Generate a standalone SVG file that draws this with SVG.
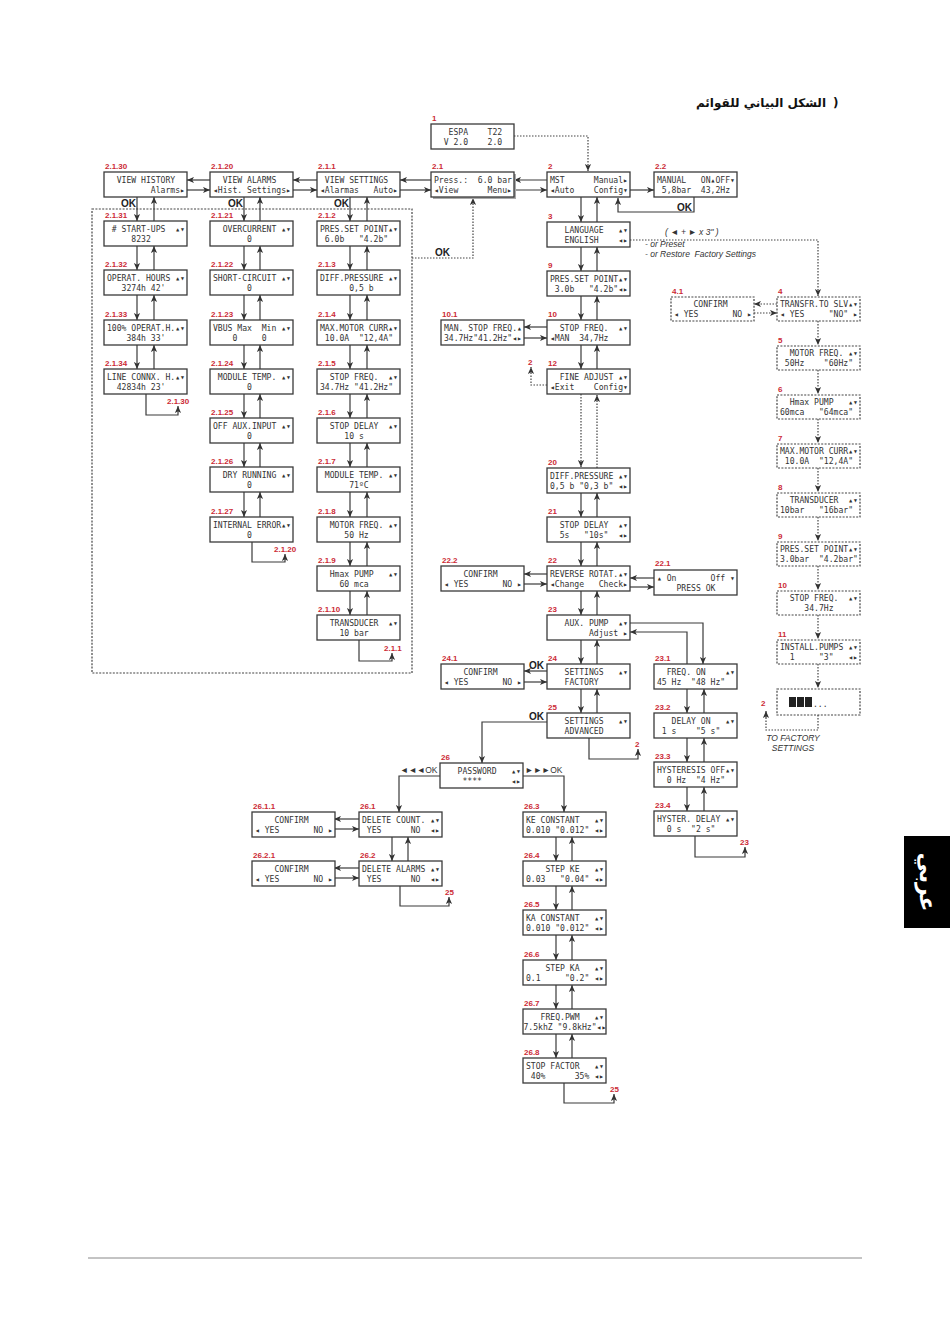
<svg xmlns="http://www.w3.org/2000/svg" width="950" height="1344" viewBox="0 0 950 1344">
<defs>
<style>
.b{fill:#fff;stroke:#3a3a3a;stroke-width:1.3}
.bd{fill:#fff;stroke:#444;stroke-width:1.2;stroke-dasharray:2 1.4}
.t{font-family:"DejaVu Sans Mono","Liberation Mono",monospace;font-size:8.1px;fill:#333;white-space:pre}
.lb{font-family:"Liberation Sans",Arial,sans-serif;font-size:8px;font-weight:bold;fill:#cc2a36}
.ok{font-family:"Liberation Sans",Arial,sans-serif;font-size:10px;font-weight:bold;fill:#222}
.sm{font-family:"Liberation Sans",Arial,sans-serif;font-size:8.5px;fill:#333}
.it{font-family:"Liberation Sans",Arial,sans-serif;font-size:8.5px;font-style:italic;fill:#333;white-space:pre}
.c{fill:none;stroke:#3a3a3a;stroke-width:1.2;marker-end:url(#a)}
.cn{fill:none;stroke:#3a3a3a;stroke-width:1.2}
.d{fill:none;stroke:#444;stroke-width:1.2;stroke-dasharray:1.5 1.5;marker-end:url(#a)}
.dn{fill:none;stroke:#444;stroke-width:1.2;stroke-dasharray:1.5 1.5}
</style>
<marker id="a" viewBox="0 0 8 8" refX="8" refY="4" markerWidth="7" markerHeight="7" markerUnits="userSpaceOnUse" orient="auto"><path d="M0,0.5 L8,4 L0,7.5 L2,4 z" fill="#333"/></marker>
</defs>
<rect width="950" height="1344" fill="#fff"/>
<g id="title">
<text x="826" y="107" text-anchor="end" style="font-family:'DejaVu Sans',sans-serif;font-size:12px;font-weight:bold;fill:#111">الشكل البياني للقوائم</text>
<text x="833" y="107" style="font-family:'DejaVu Sans',sans-serif;font-size:12px;font-weight:bold;fill:#111">)</text>
</g>
<g id="frame">
<rect x="92" y="209" width="320" height="464" class="bd" style="fill:none"/>
</g>
<g id="connectors">
<path class="d" d="M514,136H588V171"/>
<path class="d" d="M412,258H473V198"/>
<path class="c" d="M431,180H400"/>
<path class="c" d="M400,190H431"/>
<path class="c" d="M317,180H293"/>
<path class="c" d="M293,190H317"/>
<path class="c" d="M210,180H187"/>
<path class="c" d="M187,190H210"/>
<path class="c" d="M547,180H514"/>
<path class="c" d="M514,190H547"/>
<path class="c" d="M630,190H654"/>
<path class="c" d="M694,197V212H618V198"/>
<path class="d" d="M630,240H818V296"/>
<path class="d" d="M777,304H754"/>
<path class="d" d="M754,313H777"/>
<path class="d" d="M818,321V345"/>
<path class="d" d="M818,370V394"/>
<path class="d" d="M818,419V443"/>
<path class="d" d="M818,468V492"/>
<path class="d" d="M818,517V541"/>
<path class="d" d="M818,566V590"/>
<path class="d" d="M818,615V639"/>
<path class="d" d="M818,664V688"/>
<path class="dn" d="M818,715V730H766V718"/>
<path class="c" d="M766,718V711"/>
<path class="c" d="M137,197V221"/><path class="c" d="M154,221V197"/>
<path class="c" d="M137,246V270"/><path class="c" d="M154,270V246"/>
<path class="c" d="M137,295V320"/><path class="c" d="M154,320V295"/>
<path class="c" d="M137,345V369"/><path class="c" d="M154,369V345"/>
<path class="c" d="M146,394V415H178V406"/>
<path class="c" d="M244,197V221"/><path class="c" d="M260,221V197"/>
<path class="c" d="M244,246V270"/><path class="c" d="M260,270V246"/>
<path class="c" d="M244,295V320"/><path class="c" d="M260,320V295"/>
<path class="c" d="M244,345V369"/><path class="c" d="M260,369V345"/>
<path class="c" d="M244,394V418"/><path class="c" d="M260,418V394"/>
<path class="c" d="M244,443V467"/><path class="c" d="M260,467V443"/>
<path class="c" d="M244,492V517"/><path class="c" d="M260,517V492"/>
<path class="c" d="M252,542V562H285V554"/>
<path class="c" d="M350,197V221"/><path class="c" d="M367,221V197"/>
<path class="c" d="M350,246V270"/><path class="c" d="M367,270V246"/>
<path class="c" d="M350,295V320"/><path class="c" d="M367,320V295"/>
<path class="c" d="M350,345V369"/><path class="c" d="M367,369V345"/>
<path class="c" d="M350,394V418"/><path class="c" d="M367,418V394"/>
<path class="c" d="M350,443V467"/><path class="c" d="M367,467V443"/>
<path class="c" d="M350,492V517"/><path class="c" d="M367,517V492"/>
<path class="c" d="M350,542V566"/><path class="c" d="M367,566V542"/>
<path class="c" d="M350,591V615"/><path class="c" d="M367,615V591"/>
<path class="c" d="M359,640V661H392V653"/>
<path class="c" d="M581,197V222"/><path class="c" d="M597,222V197"/>
<path class="c" d="M581,247V271"/><path class="c" d="M597,271V247"/>
<path class="c" d="M581,296V320"/><path class="c" d="M597,320V296"/>
<path class="c" d="M581,345V369"/><path class="c" d="M597,369V345"/>
<path class="d" d="M581,394V467"/><path class="d" d="M597,468V395"/>
<path class="c" d="M581,493V517"/><path class="c" d="M597,517V493"/>
<path class="c" d="M581,542V566"/><path class="c" d="M597,566V542"/>
<path class="c" d="M581,591V615"/><path class="c" d="M597,615V591"/>
<path class="c" d="M581,640V664"/><path class="c" d="M597,664V640"/>
<path class="c" d="M581,689V713"/><path class="c" d="M597,713V689"/>
<path class="c" d="M547,327H524"/><path class="c" d="M524,338H547"/>
<path class="d" d="M547,385H531V367"/>
<path class="c" d="M547,574H524"/><path class="c" d="M524,584H547"/>
<path class="c" d="M654,578H630"/><path class="c" d="M630,587H654"/>
<path class="c" d="M630,623H703V664"/>
<path class="c" d="M687,664V632H630"/>
<path class="c" d="M687,689V713"/><path class="c" d="M704,713V689"/>
<path class="c" d="M687,738V762"/><path class="c" d="M704,762V738"/>
<path class="c" d="M687,787V811"/><path class="c" d="M704,811V787"/>
<path class="c" d="M695,836V857H745V847"/>
<path class="c" d="M547,671H524"/><path class="c" d="M524,682H547"/>
<path class="c" d="M547,722H482V763"/>
<path class="c" d="M589,738V759H638V749"/>
<path class="c" d="M440,776H399V812"/>
<path class="c" d="M523,776H564V812"/>
<path class="c" d="M359,819H334"/><path class="c" d="M334,829H359"/>
<path class="c" d="M359,868H334"/><path class="c" d="M334,878H359"/>
<path class="c" d="M392,837V861"/><path class="c" d="M408,861V837"/>
<path class="c" d="M400,886V906H449V897"/>
<path class="c" d="M556,837V861"/><path class="c" d="M572,861V837"/>
<path class="c" d="M556,886V910"/><path class="c" d="M572,910V886"/>
<path class="c" d="M556,935V960"/><path class="c" d="M572,960V935"/>
<path class="c" d="M556,985V1009"/><path class="c" d="M572,1009V985"/>
<path class="c" d="M556,1034V1058"/><path class="c" d="M572,1058V1034"/>
<path class="c" d="M564,1083V1103H614V1094"/>
</g>
<g id="annotations">
<text class="ok" x="136" y="207" text-anchor="end">OK</text>
<text class="ok" x="243" y="207" text-anchor="end">OK</text>
<text class="ok" x="349" y="207" text-anchor="end">OK</text>
<text class="ok" x="692" y="211" text-anchor="end">OK</text>
<text class="ok" x="435" y="256">OK</text>
<text class="ok" x="529" y="669">OK</text>
<text class="ok" x="529" y="720">OK</text>
<text class="it" x="665" y="235" xml:space="preserve">( ◄ + ► x 3" )</text>
<text class="it" x="645" y="247">- or Preset</text>
<text class="it" x="645" y="257" xml:space="preserve">- or Restore  Factory Settings</text>
<text class="it" x="793" y="741" text-anchor="middle">TO FACTORY</text>
<text class="it" x="793" y="751" text-anchor="middle">SETTINGS</text>
<text class="sm" x="400" y="773">◄◄◄OK</text>
<text class="sm" x="525" y="773">►►►OK</text>
<text class="lb" x="167" y="404">2.1.30</text>
<text class="lb" x="274" y="552">2.1.20</text>
<text class="lb" x="384" y="651">2.1.1</text>
<text class="lb" x="528" y="365">2</text>
<text class="lb" x="761" y="706">2</text>
<text class="lb" x="635" y="747">2</text>
<text class="lb" x="740" y="845">23</text>
<text class="lb" x="445" y="895">25</text>
<text class="lb" x="610" y="1092">25</text>
</g>
<g id="n1"><rect class="b" x="431" y="124" width="83" height="25"/><text class="lb" x="432" y="121">1</text><text class="t" x="434" y="135" xml:space="preserve">   ESPA    T22</text><text class="t" x="434" y="145" xml:space="preserve">  V 2.0    2.0</text></g>
<g id="n2_1"><rect x="433" y="174" width="83" height="25" fill="#aaa"/><rect class="b" x="431" y="172" width="83" height="25"/><text class="lb" x="432" y="169">2.1</text><text class="t" x="434" y="183" xml:space="preserve">Press.:  6.0 bar</text><text class="t" x="434" y="193" xml:space="preserve">◂View      Menu▸</text></g>
<g id="n2"><rect class="b" x="547" y="172" width="83" height="25"/><text class="lb" x="548" y="169">2</text><text class="t" x="550" y="183" xml:space="preserve">MST      Manual▸</text><text class="t" x="550" y="193" xml:space="preserve">◂Auto    Config▾</text></g>
<g id="n2_2"><rect class="b" x="654" y="172" width="83" height="25"/><text class="lb" x="655" y="169">2.2</text><text class="t" x="657" y="183" xml:space="preserve">MANUAL   ON▴OFF▾</text><text class="t" x="657" y="193" xml:space="preserve"> 5,8bar  43,2Hz</text></g>
<g id="n3"><rect class="b" x="547" y="222" width="83" height="25"/><text class="lb" x="548" y="219">3</text><text class="t" x="550" y="233" xml:space="preserve">   LANGUAGE   ▴▾</text><text class="t" x="550" y="243" xml:space="preserve">   ENGLISH    ◂▸</text></g>
<g id="n9"><rect class="b" x="547" y="271" width="83" height="25"/><text class="lb" x="548" y="268">9</text><text class="t" x="550" y="282" xml:space="preserve">PRES.SET POINT▴▾</text><text class="t" x="550" y="292" xml:space="preserve"> 3.0b   "4.2b"◂▸</text></g>
<g id="n10"><rect class="b" x="547" y="320" width="83" height="25"/><text class="lb" x="548" y="317">10</text><text class="t" x="550" y="331" xml:space="preserve">  STOP FREQ.  ▴▾</text><text class="t" x="550" y="341" xml:space="preserve">◂MAN  34,7Hz</text></g>
<g id="n10_1"><rect class="b" x="441" y="320" width="83" height="25"/><text class="lb" x="442" y="317">10.1</text><text class="t" x="444" y="331" xml:space="preserve">MAN. STOP FREQ.▴</text><text class="t" x="444" y="341" xml:space="preserve">34.7Hz"41.2Hz"◂▸</text></g>
<g id="n12"><rect class="b" x="547" y="369" width="83" height="25"/><text class="lb" x="548" y="366">12</text><text class="t" x="550" y="380" xml:space="preserve">  FINE ADJUST ▴▾</text><text class="t" x="550" y="390" xml:space="preserve">◂Exit    Config▾</text></g>
<g id="n20"><rect class="b" x="547" y="468" width="83" height="25"/><text class="lb" x="548" y="465">20</text><text class="t" x="550" y="479" xml:space="preserve">DIFF.PRESSURE ▴▾</text><text class="t" x="550" y="489" xml:space="preserve">0,5 b "0,3 b" ◂▸</text></g>
<g id="n21"><rect class="b" x="547" y="517" width="83" height="25"/><text class="lb" x="548" y="514">21</text><text class="t" x="550" y="528" xml:space="preserve">  STOP DELAY  ▴▾</text><text class="t" x="550" y="538" xml:space="preserve">  5s   "10s"  ◂▸</text></g>
<g id="n22"><rect class="b" x="547" y="566" width="83" height="25"/><text class="lb" x="548" y="563">22</text><text class="t" x="550" y="577" xml:space="preserve">REVERSE ROTAT.▴▾</text><text class="t" x="550" y="587" xml:space="preserve">◂Change   Check▸</text></g>
<g id="n22_2"><rect class="b" x="441" y="566" width="83" height="25"/><text class="lb" x="442" y="563">22.2</text><text class="t" x="444" y="577" xml:space="preserve">    CONFIRM</text><text class="t" x="444" y="587" xml:space="preserve">◂ YES       NO ▸</text></g>
<g id="n22_1"><rect class="b" x="654" y="570" width="83" height="25"/><text class="lb" x="655" y="566">22.1</text><text class="t" x="657" y="581" xml:space="preserve">▴ On       Off ▾</text><text class="t" x="657" y="591" xml:space="preserve">    PRESS OK</text></g>
<g id="n23"><rect class="b" x="547" y="615" width="83" height="25"/><text class="lb" x="548" y="612">23</text><text class="t" x="550" y="626" xml:space="preserve">   AUX. PUMP  ▴▾</text><text class="t" x="550" y="636" xml:space="preserve">        Adjust ▸</text></g>
<g id="n24"><rect class="b" x="547" y="664" width="83" height="25"/><text class="lb" x="548" y="661">24</text><text class="t" x="550" y="675" xml:space="preserve">   SETTINGS   ▴▾</text><text class="t" x="550" y="685" xml:space="preserve">   FACTORY</text></g>
<g id="n24_1"><rect class="b" x="441" y="664" width="83" height="25"/><text class="lb" x="442" y="661">24.1</text><text class="t" x="444" y="675" xml:space="preserve">    CONFIRM</text><text class="t" x="444" y="685" xml:space="preserve">◂ YES       NO ▸</text></g>
<g id="n23_1"><rect class="b" x="654" y="664" width="83" height="25"/><text class="lb" x="655" y="661">23.1</text><text class="t" x="657" y="675" xml:space="preserve">  FREQ. ON    ▴▾</text><text class="t" x="657" y="685" xml:space="preserve">45 Hz  "48 Hz"</text></g>
<g id="n25"><rect class="b" x="547" y="713" width="83" height="25"/><text class="lb" x="548" y="710">25</text><text class="t" x="550" y="724" xml:space="preserve">   SETTINGS   ▴▾</text><text class="t" x="550" y="734" xml:space="preserve">   ADVANCED</text></g>
<g id="n23_2"><rect class="b" x="654" y="713" width="83" height="25"/><text class="lb" x="655" y="710">23.2</text><text class="t" x="657" y="724" xml:space="preserve">   DELAY ON   ▴▾</text><text class="t" x="657" y="734" xml:space="preserve"> 1 s    "5 s"</text></g>
<g id="n23_3"><rect class="b" x="654" y="762" width="83" height="25"/><text class="lb" x="655" y="759">23.3</text><text class="t" x="657" y="773" xml:space="preserve">HYSTERESIS OFF▴▾</text><text class="t" x="657" y="783" xml:space="preserve">  0 Hz  "4 Hz"</text></g>
<g id="n23_4"><rect class="b" x="654" y="811" width="83" height="25"/><text class="lb" x="655" y="808">23.4</text><text class="t" x="657" y="822" xml:space="preserve">HYSTER. DELAY ▴▾</text><text class="t" x="657" y="832" xml:space="preserve">  0 s  "2 s"</text></g>
<g id="n26"><rect class="b" x="440" y="763" width="83" height="25"/><text class="lb" x="441" y="760">26</text><text class="t" x="443" y="774" xml:space="preserve">   PASSWORD   ▴▾</text><text class="t" x="443" y="784" xml:space="preserve">    ****      ◂▸</text></g>
<g id="n26_1"><rect class="b" x="359" y="812" width="83" height="25"/><text class="lb" x="360" y="809">26.1</text><text class="t" x="362" y="823" xml:space="preserve">DELETE COUNT. ▴▾</text><text class="t" x="362" y="833" xml:space="preserve"> YES      NO  ◂▸</text></g>
<g id="n26_1_1"><rect class="b" x="252" y="812" width="83" height="25"/><text class="lb" x="253" y="809">26.1.1</text><text class="t" x="255" y="823" xml:space="preserve">    CONFIRM</text><text class="t" x="255" y="833" xml:space="preserve">◂ YES       NO ▸</text></g>
<g id="n26_2"><rect class="b" x="359" y="861" width="83" height="25"/><text class="lb" x="360" y="858">26.2</text><text class="t" x="362" y="872" xml:space="preserve">DELETE ALARMS ▴▾</text><text class="t" x="362" y="882" xml:space="preserve"> YES      NO  ◂▸</text></g>
<g id="n26_2_1"><rect class="b" x="252" y="861" width="83" height="25"/><text class="lb" x="253" y="858">26.2.1</text><text class="t" x="255" y="872" xml:space="preserve">    CONFIRM</text><text class="t" x="255" y="882" xml:space="preserve">◂ YES       NO ▸</text></g>
<g id="n26_3"><rect class="b" x="523" y="812" width="83" height="25"/><text class="lb" x="524" y="809">26.3</text><text class="t" x="526" y="823" xml:space="preserve">KE CONSTANT   ▴▾</text><text class="t" x="526" y="833" xml:space="preserve">0.010 "0.012" ◂▸</text></g>
<g id="n26_4"><rect class="b" x="523" y="861" width="83" height="25"/><text class="lb" x="524" y="858">26.4</text><text class="t" x="526" y="872" xml:space="preserve">    STEP KE   ▴▾</text><text class="t" x="526" y="882" xml:space="preserve">0.03   "0.04" ◂▸</text></g>
<g id="n26_5"><rect class="b" x="523" y="910" width="83" height="25"/><text class="lb" x="524" y="907">26.5</text><text class="t" x="526" y="921" xml:space="preserve">KA CONSTANT   ▴▾</text><text class="t" x="526" y="931" xml:space="preserve">0.010 "0.012" ◂▸</text></g>
<g id="n26_6"><rect class="b" x="523" y="960" width="83" height="25"/><text class="lb" x="524" y="957">26.6</text><text class="t" x="526" y="971" xml:space="preserve">    STEP KA   ▴▾</text><text class="t" x="526" y="981" xml:space="preserve">0.1     "0.2" ◂▸</text></g>
<g id="n26_7"><rect class="b" x="523" y="1009" width="83" height="25"/><text class="lb" x="524" y="1006">26.7</text><text class="t" x="526" y="1020" xml:space="preserve">   FREQ.PWM   ▴▾</text><text class="t" x="523.5" y="1030" xml:space="preserve">7.5khZ "9.8kHz"◂▸</text></g>
<g id="n26_8"><rect class="b" x="523" y="1058" width="83" height="25"/><text class="lb" x="524" y="1055">26.8</text><text class="t" x="526" y="1069" xml:space="preserve">STOP FACTOR   ▴▾</text><text class="t" x="526" y="1079" xml:space="preserve"> 40%      35% ◂▸</text></g>
<g id="n2_1_30"><rect class="b" x="104" y="172" width="83" height="25"/><text class="lb" x="105" y="169">2.1.30</text><text class="t" x="107" y="183" xml:space="preserve">  VIEW HISTORY</text><text class="t" x="107" y="193" xml:space="preserve">         Alarms▸</text></g>
<g id="n2_1_20"><rect class="b" x="210" y="172" width="83" height="25"/><text class="lb" x="211" y="169">2.1.20</text><text class="t" x="213" y="183" xml:space="preserve">  VIEW ALARMS</text><text class="t" x="213" y="193" xml:space="preserve">◂Hist. Settings▸</text></g>
<g id="n2_1_1"><rect class="b" x="317" y="172" width="83" height="25"/><text class="lb" x="318" y="169">2.1.1</text><text class="t" x="320" y="183" xml:space="preserve"> VIEW SETTINGS</text><text class="t" x="320" y="193" xml:space="preserve">◂Alarmas   Auto▸</text></g>
<g id="n2_1_31"><rect class="b" x="104" y="221" width="83" height="25"/><text class="lb" x="105" y="218">2.1.31</text><text class="t" x="107" y="232" xml:space="preserve"> # START-UPS  ▴▾</text><text class="t" x="107" y="242" xml:space="preserve">     8232</text></g>
<g id="n2_1_32"><rect class="b" x="104" y="270" width="83" height="25"/><text class="lb" x="105" y="267">2.1.32</text><text class="t" x="107" y="281" xml:space="preserve">OPERAT. HOURS ▴▾</text><text class="t" x="107" y="291" xml:space="preserve">   3274h 42'</text></g>
<g id="n2_1_33"><rect class="b" x="104" y="320" width="83" height="25"/><text class="lb" x="105" y="317">2.1.33</text><text class="t" x="107" y="331" xml:space="preserve">100% OPERAT.H.▴▾</text><text class="t" x="107" y="341" xml:space="preserve">    384h 33'</text></g>
<g id="n2_1_34"><rect class="b" x="104" y="369" width="83" height="25"/><text class="lb" x="105" y="366">2.1.34</text><text class="t" x="107" y="380" xml:space="preserve">LINE CONNX. H.▴▾</text><text class="t" x="107" y="390" xml:space="preserve">  42834h 23'</text></g>
<g id="n2_1_21"><rect class="b" x="210" y="221" width="83" height="25"/><text class="lb" x="211" y="218">2.1.21</text><text class="t" x="213" y="232" xml:space="preserve">  OVERCURRENT ▴▾</text><text class="t" x="213" y="242" xml:space="preserve">       0</text></g>
<g id="n2_1_22"><rect class="b" x="210" y="270" width="83" height="25"/><text class="lb" x="211" y="267">2.1.22</text><text class="t" x="213" y="281" xml:space="preserve">SHORT-CIRCUIT ▴▾</text><text class="t" x="213" y="291" xml:space="preserve">       0</text></g>
<g id="n2_1_23"><rect class="b" x="210" y="320" width="83" height="25"/><text class="lb" x="211" y="317">2.1.23</text><text class="t" x="213" y="331" xml:space="preserve">VBUS Max  Min ▴▾</text><text class="t" x="213" y="341" xml:space="preserve">    0     0</text></g>
<g id="n2_1_24"><rect class="b" x="210" y="369" width="83" height="25"/><text class="lb" x="211" y="366">2.1.24</text><text class="t" x="213" y="380" xml:space="preserve"> MODULE TEMP. ▴▾</text><text class="t" x="213" y="390" xml:space="preserve">       0</text></g>
<g id="n2_1_25"><rect class="b" x="210" y="418" width="83" height="25"/><text class="lb" x="211" y="415">2.1.25</text><text class="t" x="213" y="429" xml:space="preserve">OFF AUX.INPUT ▴▾</text><text class="t" x="213" y="439" xml:space="preserve">       0</text></g>
<g id="n2_1_26"><rect class="b" x="210" y="467" width="83" height="25"/><text class="lb" x="211" y="464">2.1.26</text><text class="t" x="213" y="478" xml:space="preserve">  DRY RUNNING ▴▾</text><text class="t" x="213" y="488" xml:space="preserve">       0</text></g>
<g id="n2_1_27"><rect class="b" x="210" y="517" width="83" height="25"/><text class="lb" x="211" y="514">2.1.27</text><text class="t" x="213" y="528" xml:space="preserve">INTERNAL ERROR▴▾</text><text class="t" x="213" y="538" xml:space="preserve">       0</text></g>
<g id="n2_1_2"><rect class="b" x="317" y="221" width="83" height="25"/><text class="lb" x="318" y="218">2.1.2</text><text class="t" x="320" y="232" xml:space="preserve">PRES.SET POINT▴▾</text><text class="t" x="320" y="242" xml:space="preserve"> 6.0b   "4.2b"</text></g>
<g id="n2_1_3"><rect class="b" x="317" y="270" width="83" height="25"/><text class="lb" x="318" y="267">2.1.3</text><text class="t" x="320" y="281" xml:space="preserve">DIFF.PRESSURE ▴▾</text><text class="t" x="320" y="291" xml:space="preserve">      0,5 b</text></g>
<g id="n2_1_4"><rect class="b" x="317" y="320" width="83" height="25"/><text class="lb" x="318" y="317">2.1.4</text><text class="t" x="320" y="331" xml:space="preserve">MAX.MOTOR CURR▴▾</text><text class="t" x="320" y="341" xml:space="preserve"> 10.0A  "12,4A"</text></g>
<g id="n2_1_5"><rect class="b" x="317" y="369" width="83" height="25"/><text class="lb" x="318" y="366">2.1.5</text><text class="t" x="320" y="380" xml:space="preserve">  STOP FREQ.  ▴▾</text><text class="t" x="320" y="390" xml:space="preserve">34.7Hz "41.2Hz"</text></g>
<g id="n2_1_6"><rect class="b" x="317" y="418" width="83" height="25"/><text class="lb" x="318" y="415">2.1.6</text><text class="t" x="320" y="429" xml:space="preserve">  STOP DELAY  ▴▾</text><text class="t" x="320" y="439" xml:space="preserve">     10 s</text></g>
<g id="n2_1_7"><rect class="b" x="317" y="467" width="83" height="25"/><text class="lb" x="318" y="464">2.1.7</text><text class="t" x="320" y="478" xml:space="preserve"> MODULE TEMP. ▴▾</text><text class="t" x="320" y="488" xml:space="preserve">      71ºC</text></g>
<g id="n2_1_8"><rect class="b" x="317" y="517" width="83" height="25"/><text class="lb" x="318" y="514">2.1.8</text><text class="t" x="320" y="528" xml:space="preserve">  MOTOR FREQ. ▴▾</text><text class="t" x="320" y="538" xml:space="preserve">     50 Hz</text></g>
<g id="n2_1_9"><rect class="b" x="317" y="566" width="83" height="25"/><text class="lb" x="318" y="563">2.1.9</text><text class="t" x="320" y="577" xml:space="preserve">  Hmax PUMP   ▴▾</text><text class="t" x="320" y="587" xml:space="preserve">    60 mca</text></g>
<g id="n2_1_10"><rect class="b" x="317" y="615" width="83" height="25"/><text class="lb" x="318" y="612">2.1.10</text><text class="t" x="320" y="626" xml:space="preserve">  TRANSDUCER  ▴▾</text><text class="t" x="320" y="636" xml:space="preserve">    10 bar</text></g>
<g id="r4_1"><rect class="bd" x="671" y="297" width="83" height="24"/><text class="lb" x="672" y="294">4.1</text><text class="t" x="674" y="307" xml:space="preserve">    CONFIRM</text><text class="t" x="674" y="317" xml:space="preserve">◂ YES       NO ▸</text></g>
<g id="r4"><rect class="bd" x="777" y="297" width="83" height="24"/><text class="lb" x="778" y="294">4</text><text class="t" x="780" y="307" xml:space="preserve">TRANSFR.TO SLV▴▾</text><text class="t" x="780" y="317" xml:space="preserve">◂ YES     "NO" ▸</text></g>
<g id="r5"><rect class="bd" x="777" y="346" width="83" height="24"/><text class="lb" x="778" y="343">5</text><text class="t" x="780" y="356" xml:space="preserve">  MOTOR FREQ. ▴▾</text><text class="t" x="780" y="366" xml:space="preserve"> 50Hz    "60Hz"</text></g>
<g id="r6"><rect class="bd" x="777" y="395" width="83" height="24"/><text class="lb" x="778" y="392">6</text><text class="t" x="780" y="405" xml:space="preserve">  Hmax PUMP   ▴▾</text><text class="t" x="780" y="415" xml:space="preserve">60mca   "64mca"</text></g>
<g id="r7"><rect class="bd" x="777" y="444" width="83" height="24"/><text class="lb" x="778" y="441">7</text><text class="t" x="780" y="454" xml:space="preserve">MAX.MOTOR CURR▴▾</text><text class="t" x="780" y="464" xml:space="preserve"> 10.0A  "12,4A"</text></g>
<g id="r8"><rect class="bd" x="777" y="493" width="83" height="24"/><text class="lb" x="778" y="490">8</text><text class="t" x="780" y="503" xml:space="preserve">  TRANSDUCER  ▴▾</text><text class="t" x="780" y="513" xml:space="preserve">10bar   "16bar"</text></g>
<g id="r9"><rect class="bd" x="777" y="542" width="83" height="24"/><text class="lb" x="778" y="539">9</text><text class="t" x="780" y="552" xml:space="preserve">PRES.SET POINT▴▾</text><text class="t" x="780" y="562" xml:space="preserve">3.0bar  "4.2bar"</text></g>
<g id="r10"><rect class="bd" x="777" y="591" width="83" height="24"/><text class="lb" x="778" y="588">10</text><text class="t" x="780" y="601" xml:space="preserve">  STOP FREQ.  ▴▾</text><text class="t" x="780" y="611" xml:space="preserve">     34.7Hz</text></g>
<g id="r11"><rect class="bd" x="777" y="640" width="83" height="24"/><text class="lb" x="778" y="637">11</text><text class="t" x="780" y="650" xml:space="preserve">INSTALL.PUMPS ▴▾</text><text class="t" x="780" y="660" xml:space="preserve">  1     "3"   ◂▸</text></g>
<g id="r_last"><rect class="bd" x="777" y="689" width="83" height="26"/><rect x="789" y="697" width="7" height="10" fill="#222"/><rect x="797" y="697" width="7" height="10" fill="#222"/><rect x="805" y="697" width="7" height="10" fill="#222"/><text class="t" x="813" y="707">...</text></g>
<line x1="88" y1="1258" x2="862" y2="1258" stroke="#888" stroke-width="1"/>
<g id="tab"><rect x="904" y="836" width="46" height="92" fill="#000"/><text x="927" y="882" transform="rotate(90 927 882)" text-anchor="middle" dominant-baseline="central" style="font-family:'DejaVu Sans',sans-serif;font-size:22px;font-weight:bold;fill:#fff">عربي</text></g>
</svg>
